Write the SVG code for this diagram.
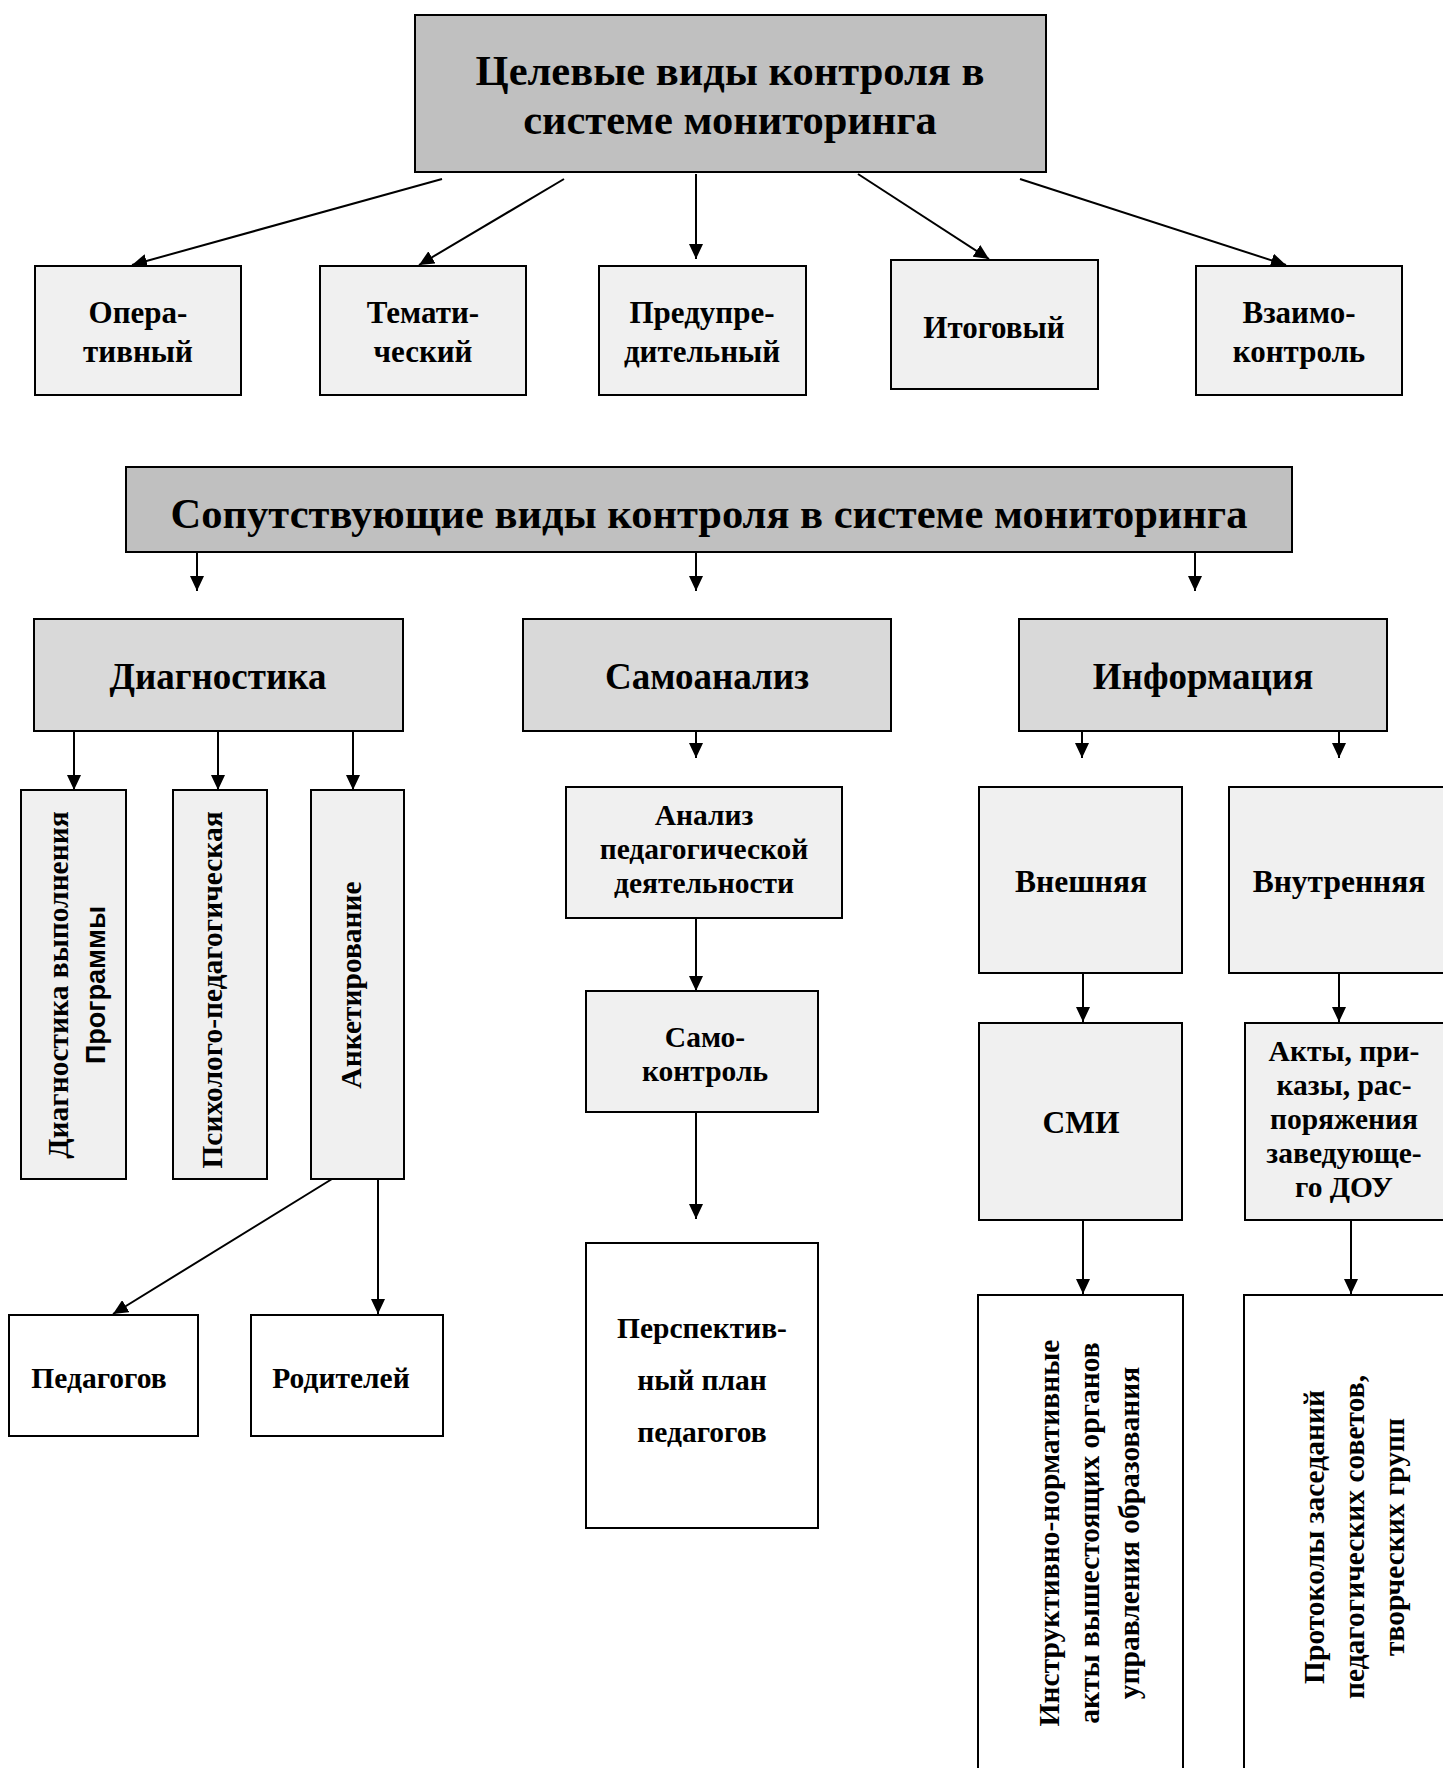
<svg xmlns="http://www.w3.org/2000/svg" width="1443" height="1768" viewBox="0 0 1443 1768">
<defs>
<style>
.bx{stroke:#000;stroke-width:2}
.g1{fill:#c0c0c0}
.g2{fill:#d9d9d9}
.g3{fill:#f0f0f0}
.w{fill:#fff}
.t{font-family:"Liberation Serif","Times New Roman",serif;font-weight:bold;fill:#000;text-anchor:middle}
.s{font-family:"Liberation Sans",Arial,sans-serif;font-weight:bold;fill:#000;text-anchor:middle}
.h{font-size:42.5px}
.m{font-size:37px}
.n{font-size:31px}
.k{font-size:29.5px}
.b{font-size:31.5px}
.c{stroke:#000;stroke-width:2;fill:none;marker-end:url(#ah)}
</style>
<marker id="ah" viewBox="0 0 15 14" refX="15" refY="7" markerWidth="15" markerHeight="14" markerUnits="userSpaceOnUse" orient="auto">
<path d="M0,0 L15,7 L0,14 z" fill="#000"/>
</marker>
</defs>
<rect width="1443" height="1768" fill="#fff"/>

<g id="connectors">
<line class="c" x1="442" y1="179" x2="132" y2="265"/>
<line class="c" x1="564" y1="179" x2="419" y2="265"/>
<line class="c" x1="696" y1="174" x2="696" y2="259"/>
<line class="c" x1="858" y1="174" x2="989" y2="259"/>
<line class="c" x1="1020" y1="179" x2="1286" y2="265"/>
<line class="c" x1="197" y1="553" x2="197" y2="591"/>
<line class="c" x1="696" y1="553" x2="696" y2="591"/>
<line class="c" x1="1195" y1="553" x2="1195" y2="591"/>
<line class="c" x1="74" y1="731" x2="74" y2="790"/>
<line class="c" x1="218" y1="731" x2="218" y2="790"/>
<line class="c" x1="353" y1="731" x2="353" y2="790"/>
<line class="c" x1="696" y1="731" x2="696" y2="758"/>
<line class="c" x1="1082" y1="731" x2="1082" y2="758"/>
<line class="c" x1="1339" y1="731" x2="1339" y2="758"/>
<line class="c" x1="332" y1="1179" x2="113" y2="1314"/>
<line class="c" x1="378" y1="1179" x2="378" y2="1314"/>
<line class="c" x1="696" y1="918" x2="696" y2="991"/>
<line class="c" x1="696" y1="1112" x2="696" y2="1219"/>
<line class="c" x1="1083" y1="973" x2="1083" y2="1022"/>
<line class="c" x1="1339" y1="973" x2="1339" y2="1022"/>
<line class="c" x1="1083" y1="1220" x2="1083" y2="1294"/>
<line class="c" x1="1351" y1="1220" x2="1351" y2="1294"/>
</g>

<g id="n-target">
<rect class="bx g1" x="415" y="15" width="631" height="157"/>
<text class="t h" x="730" y="85">Целевые виды контроля в</text>
<text class="t h" x="730" y="134">системе мониторинга</text>
</g>
<g id="n-oper">
<rect class="bx g3" x="35" y="266" width="206" height="129"/>
<text class="t n" x="138" y="323">Опера-</text>
<text class="t n" x="138" y="362">тивный</text>
</g>
<g id="n-temat">
<rect class="bx g3" x="320" y="266" width="206" height="129"/>
<text class="t n" x="423" y="323">Темати-</text>
<text class="t n" x="423" y="362">ческий</text>
</g>
<g id="n-predupr">
<rect class="bx g3" x="599" y="266" width="207" height="129"/>
<text class="t n" x="702" y="323">Предупре-</text>
<text class="t n" x="702" y="362">дительный</text>
</g>
<g id="n-itog">
<rect class="bx g3" x="891" y="260" width="207" height="129"/>
<text class="t n" x="994" y="338">Итоговый</text>
</g>
<g id="n-vzaimo">
<rect class="bx g3" x="1196" y="266" width="206" height="129"/>
<text class="t n" x="1299" y="323">Взаимо-</text>
<text class="t n" x="1299" y="362">контроль</text>
</g>

<g id="n-soput">
<rect class="bx g1" x="126" y="467" width="1166" height="85"/>
<text class="t h" x="709" y="528">Сопутствующие виды контроля в системе мониторинга</text>
</g>
<g id="n-diag">
<rect class="bx g2" x="34" y="619" width="369" height="112"/>
<text class="t m" x="218" y="689">Диагностика</text>
</g>
<g id="n-samo">
<rect class="bx g2" x="523" y="619" width="368" height="112"/>
<text class="t m" x="707" y="689">Самоанализ</text>
</g>
<g id="n-info">
<rect class="bx g2" x="1019" y="619" width="368" height="112"/>
<text class="t m" x="1203" y="689">Информация</text>
</g>

<g id="n-diag-prog">
<rect class="bx g3" x="21" y="790" width="105" height="389"/>
<text class="t k" transform="translate(68,985) rotate(-90)">Диагностика выполнения</text>
<text class="s" font-size="27px" transform="translate(105,985) rotate(-90)">Программы</text>
</g>
<g id="n-psych">
<rect class="bx g3" x="173" y="790" width="94" height="389"/>
<text class="t k" transform="translate(222,990) rotate(-90)">Психолого-педагогическая</text>
</g>
<g id="n-anket">
<rect class="bx g3" x="311" y="790" width="93" height="389"/>
<text class="t k" transform="translate(361,985) rotate(-90)">Анкетирование</text>
</g>
<g id="n-pedag">
<rect class="bx w" x="9" y="1315" width="189" height="121"/>
<text class="t k" x="99" y="1388">Педагогов</text>
</g>
<g id="n-rodit">
<rect class="bx w" x="251" y="1315" width="192" height="121"/>
<text class="t k" x="341" y="1388">Родителей</text>
</g>

<g id="n-analiz">
<rect class="bx g3" x="566" y="787" width="276" height="131"/>
<text class="t k" x="704" y="825">Анализ</text>
<text class="t k" x="704" y="859">педагогической</text>
<text class="t k" x="704" y="893">деятельности</text>
</g>
<g id="n-samokontrol">
<rect class="bx g3" x="586" y="991" width="232" height="121"/>
<text class="t k" x="705" y="1047">Само-</text>
<text class="t k" x="705" y="1081">контроль</text>
</g>
<g id="n-plan">
<rect class="bx w" x="586" y="1243" width="232" height="285"/>
<text class="t k" x="702" y="1338">Перспектив-</text>
<text class="t k" x="702" y="1390">ный план</text>
<text class="t k" x="702" y="1442">педагогов</text>
</g>

<g id="n-vnesh">
<rect class="bx g3" x="979" y="787" width="203" height="186"/>
<text class="t b" x="1081" y="892">Внешняя</text>
</g>
<g id="n-vnutr">
<rect class="bx g3" x="1229" y="787" width="230" height="186"/>
<text class="t b" x="1339" y="892">Внутренняя</text>
</g>
<g id="n-smi">
<rect class="bx g3" x="979" y="1023" width="203" height="197"/>
<text class="t b" x="1081" y="1133">СМИ</text>
</g>
<g id="n-akty">
<rect class="bx g3" x="1245" y="1023" width="215" height="197"/>
<text class="t k" x="1344" y="1061">Акты, при-</text>
<text class="t k" x="1344" y="1095">казы, рас-</text>
<text class="t k" x="1344" y="1129">поряжения</text>
<text class="t k" x="1344" y="1163">заведующе-</text>
<text class="t k" x="1344" y="1197">го ДОУ</text>
</g>
<g id="n-instr">
<rect class="bx w" x="978" y="1295" width="205" height="490"/>
<text class="t k" transform="translate(1059,1533) rotate(-90)">Инструктивно-нормативные</text>
<text class="t k" transform="translate(1099,1533) rotate(-90)">акты вышестоящих органов</text>
<text class="t k" transform="translate(1139,1533) rotate(-90)">управления образования</text>
</g>
<g id="n-protok">
<rect class="bx w" x="1244" y="1295" width="220" height="490"/>
<text class="t k" transform="translate(1324,1537) rotate(-90)">Протоколы заседаний</text>
<text class="t k" transform="translate(1364,1537) rotate(-90)">педагогических советов,</text>
<text class="t k" transform="translate(1404,1537) rotate(-90)">творческих групп</text>
</g>
</svg>
